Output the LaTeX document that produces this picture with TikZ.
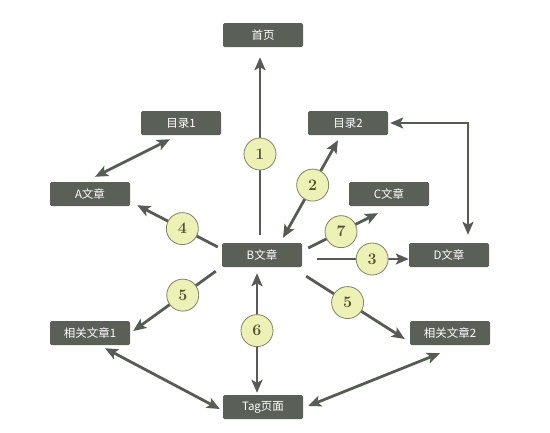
\documentclass[tikz,border=0pt]{standalone}
\usepackage{fontspec}
\newfontfamily\cjk{Noto Sans CJK SC}
\usetikzlibrary{arrows.meta}
\definecolor{boxgray}{HTML}{5A6058}
\definecolor{linegray}{HTML}{565B55}
\definecolor{numfill}{HTML}{EEF1B6}
\definecolor{numdraw}{HTML}{7F8466}
\definecolor{numtext}{HTML}{55552E}

\begin{document}
\begin{tikzpicture}[x=1pt,y=-1pt,
        page/.style={fill=boxgray,text=white,rounded corners=1.5pt,minimum width=80pt,
            minimum height=24pt,inner sep=0pt,font=\cjk\fontsize{11.5}{12}\selectfont},
        num/.style={circle,fill=numfill,draw=numdraw,line width=0.8pt,minimum size=32pt,
            inner sep=0pt,text=numtext,font=\bfseries\fontsize{16}{16}\selectfont},
        link/.style={draw=linegray,line width=2.8pt,-{Stealth[length=13pt,width=11pt,inset=3pt]}},
        both/.style={link,{Stealth[length=13pt,width=11pt,inset=3pt]}-{Stealth[length=13pt,width=11pt,inset=3pt]}}]
        \useasboundingbox (0,0) rectangle (550,432);
        \node[page] (home) at (263,35) {首页};
        \node[page] (mulu1) at (181,123) {目录1};
        \node[page] (mulu2) at (348,123) {目录2};
        \node[page] (a) at (90,194) {A文章};
        \node[page] (c) at (389,194) {C文章};
        \node[page] (b) at (262,255) {B文章};
        \node[page] (d) at (449,255) {D文章};
        \node[page] (rel1) at (90,333) {相关文章1};
        \node[page] (rel2) at (450,333) {相关文章2};
        \node[page] (tag) at (263,407) {Tag页面};
        \draw[link] ([xshift=-2pt,yshift=8pt]b.north) -- node[num,pos=0.455] {1} ([xshift=-3pt,yshift=-10pt]home.south);
        \draw[both] ([xshift=21pt,yshift=5pt]b.north) -- node[num,pos=0.54] {2} ([xshift=-10pt,yshift=-5pt]mulu2.south);
        \draw[both] ([xshift=-11pt,yshift=-4pt]mulu1.south) -- ([xshift=5pt,yshift=5pt]a.north);
        \draw[link] ([xshift=-4pt,yshift=8pt]b.west) -- node[num,pos=0.44] {4} ([xshift=7pt,yshift=1pt]a.south east);
        \draw[link] ([xshift=6pt,yshift=7pt]b.east) -- node[num,pos=0.47] {7} ([xshift=-11pt,yshift=-7pt]c.south);
        \draw[link] ([xshift=15pt,yshift=-4pt]b.east) -- node[num,pos=0.6] {3} ([yshift=-4pt]d.west);
        \draw[both] ([xshift=19pt,yshift=8pt]d.north) |- ([xshift=2pt]mulu2.east);
        \draw[link] ([xshift=-6pt,yshift=-4pt]b.south west) -- node[num,pos=0.4] {5} ([xshift=3pt,yshift=2pt]rel1.east);
        \draw[link] ([xshift=4pt,yshift=-9pt]b.south east) -- node[num,pos=0.42] {5} ([xshift=-5pt,yshift=-6pt]rel2.west);
        \draw[both] ([xshift=-5pt,yshift=-6pt]b.south) -- node[num,pos=0.48] {6} ([xshift=-6pt,yshift=2pt]tag.north);
        \draw[both] ([xshift=15pt,yshift=-3pt]rel1.south) -- ([xshift=-3pt,yshift=-2pt]tag.west);
        \draw[both] ([xshift=5pt,yshift=1pt]tag.east) -- ([xshift=-10pt,yshift=-8pt]rel2.south);
      \end{tikzpicture}
\end{document}
